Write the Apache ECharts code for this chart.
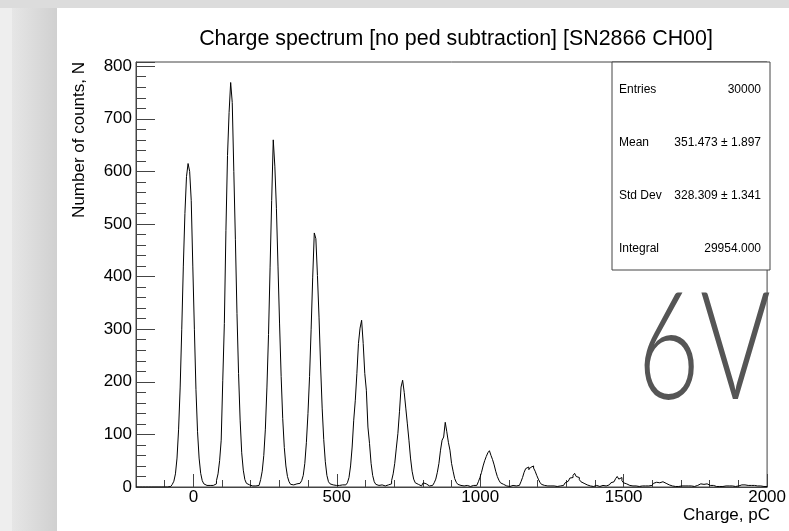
<!DOCTYPE html>
<html><head><meta charset="utf-8">
<script src="https://cdn.jsdelivr.net/npm/echarts@6/dist/echarts.min.js"></script>
<style>html,body{margin:0;padding:0;background:#fff}#c{width:789px;height:531px}</style>
</head><body><div id="c"></div>
<script>
const chartTitle = 'Charge spectrum [no ped subtraction] [SN2866 CH00]';
const xTitle = 'Charge, pC';
const yTitle = 'Number of counts, N';
const voltageTag = '6V';
const binStart = -200;
const binWidth = 5.5;
const counts = [
  0,0,0,0,0,0,0,0,0,0,0,
  0,1,0,0,0,0,0,1,0,1,
  1,3,5,11,25,55,110,190,300,420,
  520,590,615,600,545,420,300,185,105,55,
  26,12,6,3,2,3,2,3,4,6,
  12,25,50,89,203,311,488,630,712,769,
  731,600,470,330,216,127,65,32,14,7,
  4,3,2,3,2,2,3,6,14,30,
  60,110,190,290,418,545,660,610,530,420,
  310,210,130,75,40,20,10,5,4,3,
  6,5,7,8,12,22,45,85,140,210,
  300,399,483,472,402,323,230,150,90,48,
  22,10,6,4,4,3,2,3,2,4,
  3,4,5,8,18,40,76,127,165,216,
  273,302,317,273,216,184,114,83,45,22,
  10,5,3,2,4,3,2,3,4,5,
  6,12,25,45,74,102,143,190,203,180,
  150,120,89,55,30,15,8,5,3,2,
  3,8,6,3,2,4,3,4,8,15,
  28,45,70,89,95,123,105,85,70,45,
  30,16,9,5,3,3,2,2,3,2,
  1,2,3,2,3,5,10,18,28,40,
  50,58,65,69,60,52,42,30,20,13,
  8,5,3,2,2,1,2,3,2,2,
  1,3,6,10,18,28,35,38,33,37,
  40,36,30,22,15,9,5,3,2,2,
  1,2,1,2,3,1,2,2,2,3,
  5,8,11,14,17,18,22,26,20,18,
  14,10,7,5,4,3,2,2,1,2,
  3,2,1,2,3,2,2,3,4,6,
  8,10,13,16,20,15,18,12,8,6,
  4,3,2,2,1,2,3,1,2,2,
  1,2,1,2,2,3,5,7,9,10,
  8,11,10,9,7,5,4,3,2,2,
  1,2,1,0,2,1,2,1,2,1,
  2,1,1,2,3,4,6,8,5,7,
  6,5,3,2,3,2,1,2,1,2,
  1,1,2,1,2,1,2,1,1,2,
  2,3,4,5,4,5,3,4,3,2,
  3,2,2,1,2,1,1,2,1
];
const xRange = [-200, 2000];
const xMajorTicks = [0, 500, 1000, 1500, 2000];
const yRange = [0, 808];
const statsLabels = ['Entries', 'Mean', 'Std Dev', 'Integral'];
const statsValues = ['30000', '351.473 \u00b1 1.897', '328.309 \u00b1 1.341', '29954.000'];

const FONT = '"Liberation Sans", Arial, Helvetica, sans-serif';
const edges = counts.map((v, i) => [binStart + i * binWidth, v]);
edges.push([binStart + counts.length * binWidth, counts[counts.length - 1]]);

const frameColor = '#444';
const graphics = [
  {type: 'rect', z: -10, silent: true, shape: {x: 0, y: 8, width: 12, height: 523}, style: {fill: '#eeeeee'}},
  {type: 'rect', z: -10, silent: true, shape: {x: 12, y: 8, width: 45, height: 523},
   style: {fill: {type: 'linear', x: 0, y: 0, x2: 1, y2: 0, colorStops: [{offset: 0, color: '#e6e6e6'}, {offset: 1, color: '#d0d0d0'}]}}},
  {type: 'rect', z: -10, silent: true, shape: {x: 57, y: 8, width: 732, height: 523}, style: {fill: '#ffffff'}},
  {type: 'rect', z: 10, silent: true, shape: {x: 612, y: 62, width: 158, height: 208}, style: {fill: '#ffffff', stroke: frameColor, lineWidth: 1}},
  {type: 'text', z: 10, x: 79, y: 62, rotation: Math.PI / 2,
   style: {text: yTitle, font: '17px ' + FONT, fill: '#000', align: 'right', verticalAlign: 'middle'}},
  {type: 'text', z: 10, x: 770, y: 515,
   style: {text: xTitle, font: '17px ' + FONT, fill: '#000', align: 'right', verticalAlign: 'middle'}},
  {type: 'text', z: 10, x: 704, y: 351, scaleX: 0.72,
   style: {text: voltageTag, font: '300 150px Lato, "Open Sans", sans-serif', fill: '#555', align: 'center', verticalAlign: 'middle'}}
];
statsLabels.forEach((lab, k) => {
  const y = 90 + 52.8 * k;
  graphics.push({type: 'text', z: 11, x: 619, y: y, style: {text: lab, font: '12px ' + FONT, fill: '#000', align: 'left', verticalAlign: 'middle'}});
  graphics.push({type: 'text', z: 11, x: 761, y: y, style: {text: statsValues[k], font: '12px ' + FONT, fill: '#000', align: 'right', verticalAlign: 'middle'}});
});

const chart = echarts.init(document.getElementById('c'), null, {renderer: 'canvas'});
chart.setOption({
  animation: false,
  backgroundColor: '#dcdcdc',
  textStyle: {fontFamily: FONT},
  title: {text: chartTitle, left: 451, top: 24, textAlign: 'center',
    textStyle: {fontSize: 21.4, fontWeight: 'normal', color: '#000', fontFamily: FONT}},
  grid: {left: 136, right: 19, top: 62, bottom: 44, show: true, borderColor: frameColor, borderWidth: 1, backgroundColor: 'transparent'},
  xAxis: [
    {type: 'value', min: xRange[0], max: xRange[1], interval: 100, position: 'bottom',
     axisLine: {show: true, onZero: false, lineStyle: {color: frameColor, width: 1}},
     axisTick: {show: true, inside: true, length: 7, lineStyle: {color: frameColor}},
     splitLine: {show: false},
     axisLabel: {formatter: v => xMajorTicks.includes(v) ? String(v) : '', fontSize: 17, color: '#000', margin: 2, fontFamily: FONT}},
    {type: 'value', min: xRange[0], max: xRange[1], interval: 100, position: 'bottom',
     axisLine: {show: false, onZero: false},
     axisTick: {show: true, inside: true, length: 13, customValues: xMajorTicks, lineStyle: {color: frameColor}},
     splitLine: {show: false}, axisLabel: {show: false}}
  ],
  yAxis: [
    {type: 'value', min: yRange[0], max: yRange[1], interval: 20, position: 'left',
     axisLine: {show: true, onZero: false, lineStyle: {color: frameColor, width: 1}},
     axisTick: {show: true, inside: true, length: 10, lineStyle: {color: frameColor}},
     splitLine: {show: false},
     axisLabel: {formatter: v => (v % 100 === 0) ? String(v) : '', fontSize: 17, color: '#000', margin: 4, fontFamily: FONT}},
    {type: 'value', min: yRange[0], max: yRange[1], interval: 100, position: 'left',
     axisLine: {show: false, onZero: false},
     axisTick: {show: true, inside: true, length: 19, lineStyle: {color: frameColor}},
     splitLine: {show: false}, axisLabel: {show: false}}
  ],
  series: [{
    type: 'line', step: 'end', data: edges, xAxisIndex: 0, yAxisIndex: 0,
    symbol: 'none', showSymbol: false, clip: true,
    lineStyle: {color: '#000', width: 1}
  }],
  graphic: graphics
});
</script></body></html>
